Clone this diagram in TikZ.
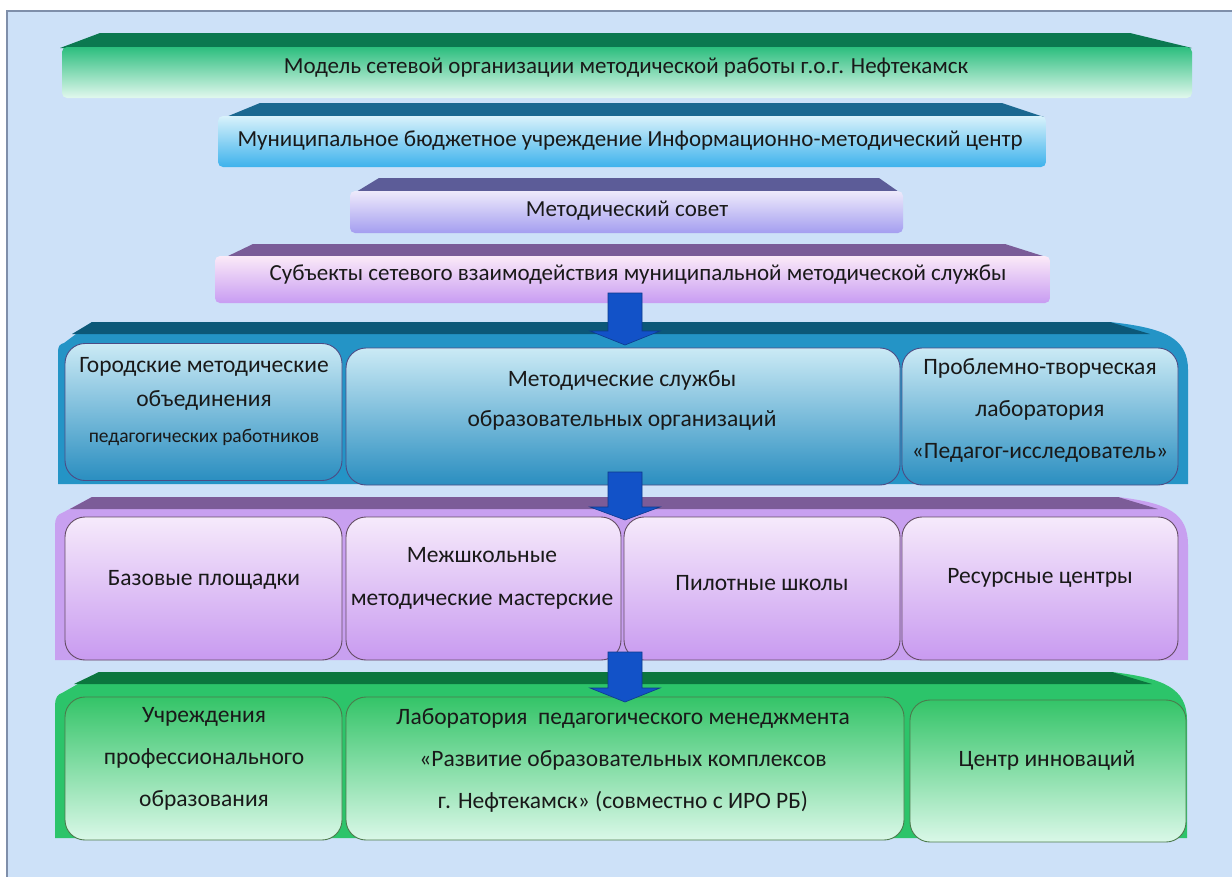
\documentclass[tikz,border=0pt]{standalone}
\usepackage{fontspec}
\setmainfont{Carlito}
\begin{document}
\begin{tikzpicture}[x=1pt,y=-1pt,
  txt/.style={font=\fontsize{23.5}{42}\selectfont, text=black!90, align=center, inner sep=0pt},
  btxt/.style={font=\fontsize{23}{28}\selectfont, text=black!90, align=center, inner sep=0pt},
  bannerbody/.style={rounded corners=5pt, inner sep=0pt},
  cell/.style={rounded corners=20pt, line width=0.9pt, inner sep=0pt},
  bluecell/.style={cell, draw=black!45!blue!40!gray, top color=cellbluetop, bottom color=cellbluebot},
  lilaccell/.style={cell, draw=black!55!violet!40!gray, top color=lilactop, bottom color=lilacbot},
  greencell/.style={cell, draw=black!55!green!40!gray, top color=greencelltop, bottom color=greencellbot},
  blockarrow/.style={fill=arrowblue, draw=arrowblue!70!black, line width=0.6pt}
]
\definecolor{bgblue}{HTML}{CDE1F8}
\definecolor{framegray}{HTML}{7F8FAA}
\definecolor{g1strip}{HTML}{0B7850}
\definecolor{g1top}{HTML}{2CBE7E}
\definecolor{g1bot}{HTML}{E2F8EE}
\definecolor{b2strip}{HTML}{1A6890}
\definecolor{b2top}{HTML}{D8F2FB}
\definecolor{b2bot}{HTML}{3EB2EC}
\definecolor{v3strip}{HTML}{5C5C98}
\definecolor{v3top}{HTML}{EEEAFB}
\definecolor{v3bot}{HTML}{A49EF0}
\definecolor{p4strip}{HTML}{7A5C98}
\definecolor{p4top}{HTML}{FBEAF8}
\definecolor{p4bot}{HTML}{C89CF2}
\definecolor{panelblue}{HTML}{2494C6}
\definecolor{panelbluestrip}{HTML}{0C5878}
\definecolor{cellbluetop}{HTML}{CBEAF5}
\definecolor{cellbluebot}{HTML}{2A8EC0}
\definecolor{panellilac}{HTML}{C8A0F0}
\definecolor{panellilacstrip}{HTML}{7C5C98}
\definecolor{lilactop}{HTML}{F6EAFB}
\definecolor{lilacbot}{HTML}{C89AF0}
\definecolor{panelgreen}{HTML}{2CC46A}
\definecolor{panelgreenstrip}{HTML}{0B763E}
\definecolor{greencelltop}{HTML}{34C468}
\definecolor{greencellbot}{HTML}{DAF8E8}
\definecolor{arrowblue}{HTML}{1252C8}

\useasboundingbox (0,0) rectangle (1232,876);
\fill[white] (0,0) rectangle (1232,876);
\begin{scope}
\clip (0,0) rectangle (1232,876);
\filldraw[fill=bgblue, draw=framegray, line width=1.2pt] (7,11) rectangle (1245,890);
\end{scope}

% ---- banner 1
\fill[g1strip] (100,33) -- (1130,33) -- (1192,48) -- (60,48) -- cycle;
\path[bannerbody, top color=g1top, bottom color=g1bot] (62,47) rectangle (1192,98);
\node[btxt] (t1) at (626,68) {Модель сетевой организации методической работы г.о.г. Нефтекамск};

% ---- banner 2
\fill[b2strip] (260,103) -- (1002,103) -- (1044,117) -- (226,117) -- cycle;
\path[bannerbody, top color=b2top, bottom color=b2bot] (218,116) rectangle (1046,167);
\node[btxt] (t2) at (630,141) {Муниципальное бюджетное учреждение Информационно-методический центр};

% ---- banner 3
\fill[v3strip] (379,178) -- (879,178) -- (899,192) -- (356,192) -- cycle;
\path[bannerbody, top color=v3top, bottom color=v3bot] (350,191) rectangle (903,233);
\node[btxt] (t3) at (627,211) {Методический совет};

% ---- banner 4
\fill[p4strip] (253,244) -- (1005,244) -- (1046,257) -- (226,257) -- cycle;
\path[bannerbody, top color=p4top, bottom color=p4bot] (215,256) rectangle (1050,303);
\node[btxt] (t4) at (638,275) {Субъекты сетевого взаимодействия муниципальной методической службы};

% ---- section 2 panel (blue)
\fill[panelblue] (92,322) -- (1110,322) .. controls (1165,328) and (1188,338) .. (1188,370) -- (1188,484) -- (58,484) -- (58,352) .. controls (58,346) and (60,344) .. (64,343) -- cycle;
\fill[panelbluestrip] (92,322) -- (1110,322) -- (1150,334) -- (72,334) -- cycle;
\node[bluecell, minimum width=277pt, minimum height=137pt] (s2a) at (203.5,412) {};
\node[bluecell, minimum width=554pt, minimum height=137pt] (s2b) at (623,416.5) {};
\node[bluecell, minimum width=276pt, minimum height=137pt] (s2c) at (1040,416.5) {};
\node[txt, font=\fontsize{23.5}{34}\selectfont] (s2at) at (204,384) {Городские методические\\объединения};
\node[txt, font=\fontsize{19.5}{22}\selectfont] (s2at2) at (204,437) {педагогических работников};
\node[txt, font=\fontsize{23.5}{40}\selectfont] (s2bt) at (622,400) {Методические службы\\образовательных организаций};
\node[txt] (s2ct) at (1040,410) {Проблемно-творческая\\лаборатория\\«Педагог-исследователь»};

% ---- section 3 panel (lilac)
\fill[panellilac] (92,497) -- (1118,497) .. controls (1168,503) and (1188,513) .. (1188,545) -- (1188,660) -- (55,660) -- (55,525) .. controls (55,518) and (58,514) .. (62,513) -- cycle;
\fill[panellilacstrip] (92,497) -- (1118,497) -- (1158,509) -- (70,509) -- cycle;
\node[lilaccell, minimum width=277pt, minimum height=143pt] (s3a) at (203.5,588.5) {};
\node[lilaccell, minimum width=275pt, minimum height=143pt] (s3b) at (483.5,588.5) {};
\node[lilaccell, minimum width=276pt, minimum height=143pt] (s3c) at (762,588.5) {};
\node[lilaccell, minimum width=276pt, minimum height=143pt] (s3d) at (1040,588.5) {};
\node[txt] (s3at) at (204,580) {Базовые площадки};
\node[txt, font=\fontsize{23.5}{43}\selectfont] (s3bt) at (482,578.5) {Межшкольные\\методические мастерские};
\node[txt] (s3ct) at (762,583) {Пилотные школы};
\node[txt] (s3dt) at (1040,578) {Ресурсные центры};

% ---- section 4 panel (green)
\fill[panelgreen] (99,672) -- (1112,672) .. controls (1163,678) and (1187,688) .. (1187,720) -- (1187,838) -- (55,838) -- (55,705) .. controls (55,698) and (58,694) .. (62,693) -- cycle;
\fill[panelgreenstrip] (99,672) -- (1112,672) -- (1152,684) -- (74,684) -- cycle;
\node[greencell, minimum width=277pt, minimum height=143pt] (s4a) at (203.5,768.5) {};
\node[greencell, minimum width=558pt, minimum height=143pt] (s4b) at (625,768.5) {};
\node[greencell, minimum width=276pt, minimum height=142pt] (s4c) at (1048,771) {};
\node[txt] (s4at) at (204,758.5) {Учреждения\\профессионального\\образования};
\node[txt] (s4bt) at (623,760.5) {Лаборатория\ \ педагогического менеджмента\\«Развитие образовательных комплексов\\г. Нефтекамск» (совместно с ИРО РБ)};
\node[txt] (s4ct) at (1047,760) {Центр инноваций};

% ---- block arrows
\path[blockarrow] (608,293) -- (642,293) -- (642,331) -- (660,331) -- (625,345) -- (590,331) -- (608,331) -- cycle;
\path[blockarrow] (608,472) -- (642,472) -- (642,507) -- (660,507) -- (625,520) -- (590,507) -- (608,507) -- cycle;
\path[blockarrow] (608,652) -- (642,652) -- (642,688) -- (660,688) -- (625,702) -- (590,688) -- (608,688) -- cycle;
\end{tikzpicture}
\end{document}
